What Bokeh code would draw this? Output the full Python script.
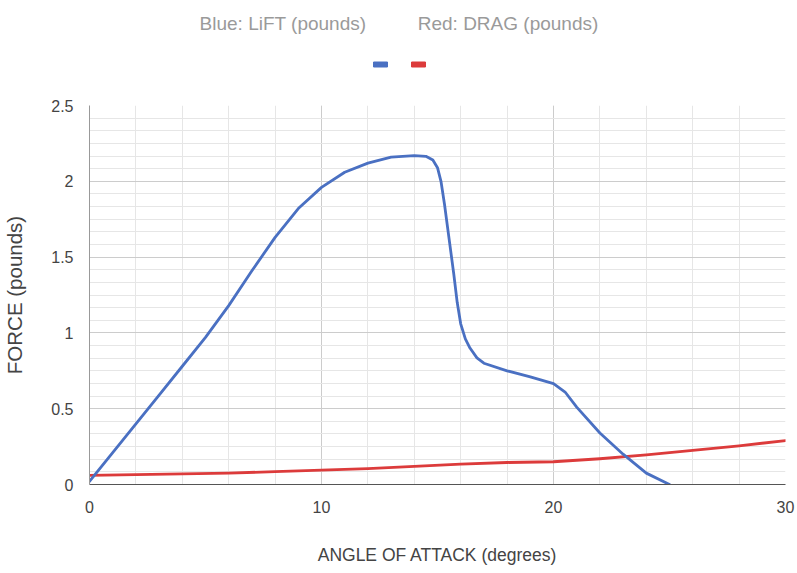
from bokeh.plotting import figure
from bokeh.layouts import column
from bokeh.models import Range1d, FixedTicker, ColumnDataSource
from bokeh.core.properties import value
from bokeh.embed import file_html
from bokeh.resources import INLINE

# ---- data ----
angle_lift = [0, 1, 2, 3, 4, 5, 6, 7, 8, 9, 10, 11, 12, 13, 14, 14.5, 14.8, 15,
              15.15, 15.3, 15.5, 15.7, 15.85, 16, 16.2, 16.4, 16.7, 17, 18, 19,
              20, 20.5, 21, 22, 23, 24, 25]
lift = [0.02, 0.21, 0.40, 0.59, 0.78, 0.97, 1.18, 1.41, 1.63, 1.82, 1.96, 2.06,
        2.12, 2.16, 2.17, 2.165, 2.14, 2.09, 2.00, 1.85, 1.62, 1.39, 1.20, 1.06,
        0.96, 0.90, 0.835, 0.80, 0.75, 0.71, 0.665, 0.61, 0.51, 0.34, 0.20,
        0.075, 0.0]
angle_drag = [0, 2, 4, 6, 8, 10, 12, 14, 16, 18, 20, 22, 24, 26, 28, 30]
drag = [0.06, 0.065, 0.07, 0.075, 0.085, 0.095, 0.105, 0.12, 0.135, 0.145,
        0.15, 0.17, 0.195, 0.225, 0.255, 0.29]
x_ticks = [0, 10, 20, 30]
y_ticks = [0, 0.5, 1, 1.5, 2, 2.5]
series_names = ["Blue: LiFT (pounds)", "Red: DRAG (pounds)"]
series_colors = ["#4A70C2", "#DC3B3B"]

FONT = "Liberation Sans"
W = 797
H_TOP = 90
FRAME_L, FRAME_R = 89, 785   # pixel span of the plot frame

# ---- header: series names with short colour keys ----
# (the column aligns this figure's frame with the chart frame, so its
#  x range is expressed in the chart's pixel columns)
top = figure(width=W, height=H_TOP, output_backend="svg", toolbar_location=None,
             x_range=Range1d(FRAME_L, FRAME_R), y_range=Range1d(H_TOP, 0),
             min_border=0, x_axis_type=None, y_axis_type=None)
top.grid.visible = False
top.outline_line_color = None
hdr = ColumnDataSource(dict(x=[282.5, 507.5], y=[23, 23], t=series_names))
top.text(x="x", y="y", text="t", source=hdr, text_font=value(FONT),
         text_font_size="19px", text_color="#9a9a9a", text_align="center",
         text_baseline="middle")
top.rect(x=[380, 418], y=[64, 64], width=14, height=5, color=series_colors)

# ---- main chart ----
p = figure(width=W, height=573 - H_TOP, output_backend="svg",
           toolbar_location=None, x_range=Range1d(0, 30), y_range=Range1d(0, 2.5),
           min_border_left=FRAME_L, min_border_right=W - FRAME_R,
           min_border_top=15, min_border_bottom=89)
p.outline_line_color = None

minor_x = [i for i in range(0, 31, 2)]
minor_y = [i / 12 for i in range(0, 31)]
p.xaxis.ticker = FixedTicker(ticks=x_ticks, minor_ticks=minor_x)
p.yaxis.ticker = FixedTicker(ticks=y_ticks, minor_ticks=minor_y)
p.xgrid.ticker = p.xaxis.ticker
p.ygrid.ticker = p.yaxis.ticker
p.yaxis.major_label_overrides = {0: "0", 0.5: "0.5", 1: "1", 1.5: "1.5", 2: "2", 2.5: "2.5"}

for g in (p.xgrid, p.ygrid):
    g.grid_line_color = "#cccccc"
    g.grid_line_width = 1
    g.minor_grid_line_color = "#e6e6e6"
    g.minor_grid_line_width = 1

for ax in (p.xaxis, p.yaxis):
    ax.major_tick_line_color = None
    ax.minor_tick_line_color = None
    ax.major_label_text_font = FONT
    ax.major_label_text_font_size = "16px"
    ax.major_label_text_color = "#444444"
    ax.axis_label_text_font = FONT
    ax.axis_label_text_font_style = "normal"
    ax.axis_label_text_color = "#444444"
    ax.major_label_standoff = 10

p.xaxis.axis_line_color = "#555555"
p.yaxis.axis_line_color = "#999999"
p.xaxis.axis_label = "ANGLE OF ATTACK (degrees)"
p.yaxis.axis_label = "FORCE (pounds)"
p.xaxis.axis_label_text_font_size = "17.5px"
p.yaxis.axis_label_text_font_size = "20.5px"
p.xaxis.axis_label_standoff = 29
p.yaxis.axis_label_standoff = 22

p.line(angle_drag, drag, line_color=series_colors[1], line_width=2.8,
       line_join="round", line_cap="round")
p.line(angle_lift, lift, line_color=series_colors[0], line_width=2.8,
       line_join="round", line_cap="round")

layout = column(top, p, spacing=0)
open("out.html", "w").write(file_html(layout, INLINE))
